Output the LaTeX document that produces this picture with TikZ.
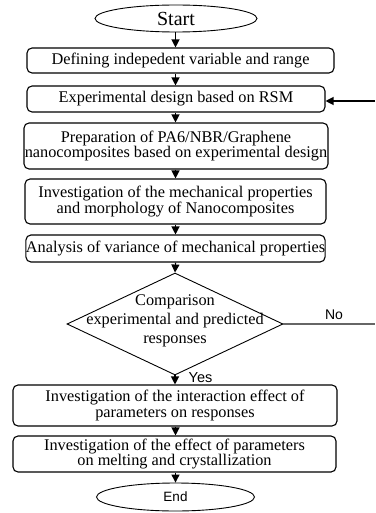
\documentclass[tikz,border=0pt]{standalone}
\usepackage{fontspec}
\setmainfont{Liberation Serif}
\newfontfamily\arialfont{Liberation Sans}
\usetikzlibrary{shapes.geometric,arrows.meta}
\begin{document}
\begin{tikzpicture}[x=1pt,y=-1pt,
  box/.style={draw, line width=1.1pt, rounded corners=5pt, inner sep=0pt, align=center,
    font=\fontsize{16.3}{15.5}\selectfont},
  oval/.style={draw, line width=0.9pt, ellipse, inner sep=0pt},
  arr/.style={line width=1.2pt, -{Triangle[length=8pt,width=8pt]}},
  sanslabel/.style={font=\arialfont\fontsize{14}{14}\selectfont, inner sep=0pt}
]
\useasboundingbox (0,0) rectangle (375,513);
\node[oval, minimum width=162pt, minimum height=27pt, font=\fontsize{20}{20}\selectfont] (start) at (176,18.5) {Start};
\node[box, minimum width=307pt, minimum height=25pt] (b1) at (180.5,60.5) {Defining indepedent variable and range};
\node[box, minimum width=298pt, minimum height=26pt] (b2) at (176,99) {Experimental design based on RSM};
\node[box, minimum width=304pt, minimum height=46pt] (b3) at (176,146) {Preparation of PA6/NBR/Graphene\\nanocomposites based on experimental design};
\node[box, minimum width=301pt, minimum height=45pt] (b4) at (175.5,201.5) {Investigation of the mechanical properties\\and morphology of Nanocomposites};
\node[box, minimum width=299pt, minimum height=27pt] (b5) at (175.5,248.5) {Analysis of variance of mechanical properties};
\node[draw, line width=0.9pt, diamond, inner sep=0pt, minimum width=216pt, minimum height=102pt] (dec) at (175,324) {};
\node[align=center, inner sep=0pt, font=\fontsize{16.3}{19}\selectfont] (dectext) at (175,321) {Comparison\\experimental and predicted\\responses};
\node[box, minimum width=324pt, minimum height=41pt] (b6) at (175,405.5) {Investigation of the interaction effect of\\parameters on responses};
\node[box, minimum width=323pt, minimum height=36pt] (b7) at (174.5,454) {Investigation of the effect of parameters\\on melting and crystallization};
\node[oval, minimum width=158pt, minimum height=28pt, font=\arialfont\fontsize{13.5}{13.5}\selectfont] (end) at (175.5,497) {End};
\coordinate (ax) at (175.5,0);
\draw[arr] (start.south -| ax) -- (b1.north -| ax);
\draw[arr] (b1.south -| ax) -- (b2.north -| ax);
\draw[arr] (b2.south -| ax) -- (b3.north -| ax);
\draw[arr] (b3.south -| ax) -- (b4.north -| ax);
\draw[arr] (b4.south -| ax) -- (b5.north -| ax);
\draw[arr] (b5.south -| ax) -- (dec.north);
\draw[arr] (dec.south) -- (b6.north -| dec.south);
\draw[arr] (b6.south -| ax) -- (b7.north -| ax);
\draw[arr] (b7.south -| ax) -- (end.north -| ax);
\coordinate (noend) at (375,324);
\draw[line width=1.4pt, black!60] (dec.east) -- (noend);
\node[sanslabel] (nolab) at (334,315) {No};
\node[sanslabel, font=\arialfont\fontsize{14.5}{14.5}\selectfont] (yeslab) at (200.5,378) {Yes};
\coordinate (fb) at (375,101);
\draw[arr] (fb) -- (b2.east |- fb);
\end{tikzpicture}
\end{document}
